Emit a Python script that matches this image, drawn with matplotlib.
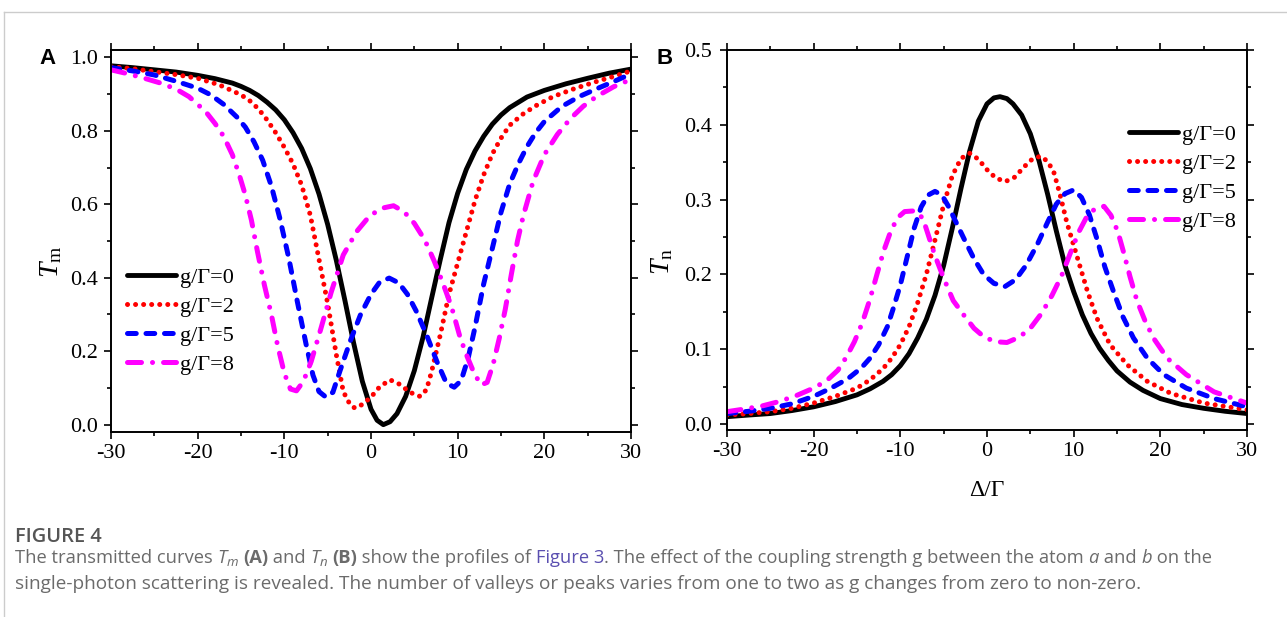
import matplotlib
matplotlib.use('Agg')
import matplotlib.pyplot as plt
from matplotlib.lines import Line2D
from matplotlib.ticker import MultipleLocator, FormatStrFormatter

plt.rcParams['font.family'] = ['Liberation Serif', 'DejaVu Serif']
plt.rcParams['mathtext.fontset'] = 'custom'
plt.rcParams['mathtext.rm'] = 'Liberation Serif'
plt.rcParams['mathtext.it'] = 'Liberation Serif:italic'
plt.rcParams['axes.unicode_minus'] = False

# ---------------- data ----------------
labels = ['g/Γ=0', 'g/Γ=2', 'g/Γ=5', 'g/Γ=8']

# Panel A : T_m
xa_g0 = [-30, -27.5, -25, -22.5, -20, -18, -16, -15, -14, -13, -12, -11, -10, -9, -8, -7, -6, -5, -4, -3, -2, -1,
         0, 0.7, 1.42, 2.2, 3, 4, 5, 6, 7, 8, 9, 10, 11, 12, 13, 14, 15, 16, 18, 20, 22.5, 25, 27.5, 30]
ta_g0 = [0.977, 0.972, 0.966, 0.960, 0.951, 0.942, 0.930, 0.921, 0.910, 0.896, 0.878, 0.857, 0.830, 0.795, 0.752,
         0.697, 0.628, 0.545, 0.447, 0.337, 0.222, 0.118, 0.042, 0.012, 0.0, 0.008, 0.03, 0.077, 0.147, 0.238, 0.345,
         0.45, 0.55, 0.63, 0.695, 0.745, 0.785, 0.818, 0.843, 0.863, 0.892, 0.910, 0.928, 0.943, 0.957, 0.968]

xa_g2 = [-30, -27.5, -25, -22.5, -20, -17.5, -15, -14, -13, -12, -11, -10, -9, -8, -7, -6, -5, -4, -3.2, -2.4, -1.85,
         -1, 0, 1, 2.2, 3.3, 4.5, 5.65, 6.4, 7, 8, 9, 10, 11, 12, 13, 14, 15, 16, 17.5, 19, 21, 23.5, 26, 28, 30]
ta_g2 = [0.975, 0.969, 0.961, 0.953, 0.943, 0.925, 0.898, 0.882, 0.86, 0.83, 0.795, 0.755, 0.71, 0.652, 0.57, 0.45,
         0.33, 0.19, 0.09, 0.054, 0.045, 0.055, 0.075, 0.103, 0.122, 0.11, 0.088, 0.077, 0.095, 0.145, 0.245, 0.355,
         0.44, 0.525, 0.61, 0.68, 0.737, 0.78, 0.815, 0.845, 0.868, 0.893, 0.915, 0.934, 0.948, 0.963]

xa_g5 = [-30, -27.5, -25, -22.5, -20, -18.5, -17, -15.5, -14.5, -13.5, -12.5, -11.5, -10.5, -9.5, -8.5, -7.5, -6.7,
         -6, -5.2, -4.4, -3.6, -2.4, -1.2, 0, 1, 2.1, 3.2, 4.2, 5.2, 6.4, 7.6, 8.7, 9.6, 10.4, 11.2, 12, 13, 14, 15,
         16, 17, 18, 19, 20, 22, 24, 26, 28, 30]
ta_g5 = [0.972, 0.963, 0.952, 0.935, 0.916, 0.898, 0.872, 0.838, 0.81, 0.77, 0.72, 0.65, 0.56, 0.455, 0.335, 0.22,
         0.135, 0.09, 0.075, 0.088, 0.145, 0.227, 0.30, 0.355, 0.388, 0.399, 0.386, 0.355, 0.31, 0.245, 0.172, 0.113,
         0.102, 0.12, 0.18, 0.265, 0.383, 0.48, 0.578, 0.655, 0.71, 0.757, 0.795, 0.825, 0.866, 0.893, 0.914, 0.934,
         0.955]

xa_g8 = [-30, -28, -26, -24, -22.3, -21, -20, -19, -18, -17, -16, -15.2, -14.5, -13.8, -13.1, -12.3, -11.5, -10.8,
         -10, -9.3, -8.6, -7.8, -6.9, -5.8, -4.6, -3.2, -1.65, -0.1, 1.4, 2.6, 3.8, 5, 6.2, 7.3, 8.3, 9.3, 10.3, 11.1,
         11.9, 12.7, 13.4, 14.1, 14.8, 15.5, 16.2, 16.9, 17.6, 18.7, 20, 21.5, 23, 24.5, 26, 28, 30]
ta_g8 = [0.966, 0.955, 0.942, 0.928, 0.911, 0.893, 0.872, 0.85, 0.82, 0.785, 0.735, 0.68, 0.625, 0.557, 0.471,
         0.38, 0.3, 0.218, 0.14, 0.097, 0.092, 0.118, 0.172, 0.26, 0.36, 0.462, 0.526, 0.57, 0.59, 0.596, 0.58, 0.548,
         0.503, 0.445, 0.385, 0.32, 0.236, 0.185, 0.14, 0.108, 0.115, 0.165, 0.235, 0.315, 0.41, 0.5, 0.571, 0.662,
         0.735, 0.79, 0.833, 0.867, 0.893, 0.92, 0.94]

# Panel B : T_n
xb_g0 = [-30, -27.5, -25, -22.5, -20, -17.5, -15, -13.5, -12, -11, -10, -9, -8, -7, -6, -5, -4, -3, -2, -1, 0, 0.8,
         1.5, 2.3, 3, 4, 5, 6, 7, 8, 9, 10, 11, 12, 13, 14, 15, 16.5, 18, 20, 22.5, 25, 27.5, 30]
tb_g0 = [0.0098, 0.012, 0.014, 0.018, 0.023, 0.03, 0.039, 0.047, 0.057, 0.066, 0.078, 0.094, 0.115, 0.14, 0.172,
         0.212, 0.262, 0.315, 0.365, 0.405, 0.428, 0.436, 0.4376, 0.435, 0.428, 0.413, 0.388, 0.352, 0.307, 0.258,
         0.212, 0.177, 0.146, 0.121, 0.101, 0.085, 0.071, 0.056, 0.045, 0.034, 0.026, 0.021, 0.017, 0.014]

xb_g2 = [-30, -27.5, -25, -22.5, -20, -17.5, -15, -13.5, -12, -11, -10, -9, -8, -7, -6, -5, -4, -3, -2, -1, 0, 1,
         2.1, 3.2, 4.3, 5.3, 6.2, 7, 7.7, 8.4, 9.2, 10, 10.8, 11.6, 12.7, 14.2, 16.2, 18.5, 21.2, 25, 30]
tb_g2 = [0.012, 0.014, 0.0165, 0.021, 0.028, 0.037, 0.048, 0.059, 0.074, 0.088, 0.106, 0.13, 0.162, 0.2, 0.246,
         0.293, 0.332, 0.355, 0.362, 0.354, 0.34, 0.329, 0.324, 0.33, 0.344, 0.355, 0.358, 0.351, 0.337, 0.308, 0.27,
         0.239, 0.208, 0.177, 0.141, 0.106, 0.079, 0.057, 0.041, 0.028, 0.019]

xb_g5 = [-30, -27.5, -25, -22.5, -20, -18, -16, -14.5, -13.5, -12.5, -11.5, -10.8, -10, -9.2, -8.4, -7.6, -6.8, -6,
         -5.2, -4.4, -3.5, -2.5, -1.5, -0.4, 0.8, 2.1, 3.3, 4.5, 5.8, 7, 8, 9, 10, 10.9, 11.8, 12.7, 13.6, 14.6, 15.7,
         16.9, 18.5, 20.4, 23, 26.2, 30]
tb_g5 = [0.014, 0.017, 0.021, 0.027, 0.037, 0.048, 0.061, 0.075, 0.088, 0.106, 0.13, 0.155, 0.186, 0.224, 0.262,
         0.29, 0.306, 0.311, 0.306, 0.29, 0.268, 0.244, 0.221, 0.2, 0.188, 0.184, 0.193, 0.212, 0.24, 0.27, 0.294,
         0.308, 0.313, 0.303, 0.28, 0.247, 0.21, 0.177, 0.143, 0.115, 0.088, 0.066, 0.048, 0.034, 0.023]

xb_g8 = [-30, -28, -26, -24, -22, -20, -18.5, -17.2, -16.2, -15.3, -14.4, -13.5, -12.7, -11.9, -11.1, -10.3, -9.5,
         -8.3, -7.4, -6.7, -6, -5, -3.9, -2.7, -1.5, -0.3, 1, 2.3, 3.7, 5, 6.3, 7.5, 8.6, 9.6, 10.6, 11.6, 12.6, 13.5,
         14.3, 15.1, 15.8, 16.5, 17.3, 18.2, 19.2, 20.8, 23, 26.2, 30]
tb_g8 = [0.0165, 0.02, 0.024, 0.03, 0.038, 0.048, 0.058, 0.072, 0.09, 0.11, 0.135, 0.167, 0.2, 0.232, 0.258, 0.276,
         0.284, 0.285, 0.275, 0.25, 0.225, 0.195, 0.165, 0.146, 0.128, 0.116, 0.11, 0.109, 0.116, 0.128, 0.148, 0.172,
         0.198, 0.228, 0.257, 0.279, 0.289, 0.291, 0.279, 0.257, 0.228, 0.197, 0.165, 0.139, 0.115, 0.088, 0.066,
         0.043, 0.028]

xticks = [-30, -20, -10, 0, 10, 20, 30]

# ---------------- layout ----------------
W, H = 1287, 617
fig = plt.figure(figsize=(W / 100, H / 100), dpi=100)


def fx(px):
    return px / W


def fy(py):
    return 1 - py / H


axA = fig.add_axes([fx(111), fy(432), (631 - 111) / W, (432 - 50) / H])
axB = fig.add_axes([fx(727), fy(430), (1247 - 727) / W, (430 - 50) / H])

styles = [
    dict(color='#000000', lw=3.5, ls='-', solid_capstyle='round', solid_joinstyle='round'),
    dict(color='#ff0000', lw=3.6, ls=(0, (0.01, 1.6)), dash_capstyle='round'),
    dict(color='#0000ff', lw=3.6, ls=(0, (1.75, 1.95)), dash_capstyle='round'),
    dict(color='#ff00ff', lw=3.6, ls=(0, (2.8, 2.2, 0.01, 2.2)), dash_capstyle='round'),
]

seriesA = [(xa_g0, ta_g0), (xa_g2, ta_g2), (xa_g5, ta_g5), (xa_g8, ta_g8)]
seriesB = [(xb_g0, tb_g0), (xb_g2, tb_g2), (xb_g5, tb_g5), (xb_g8, tb_g8)]

for ax, series in ((axA, seriesA), (axB, seriesB)):
    for (xs, ys), st, lab in zip(series, styles, labels):
        ax.plot(xs, ys, label=lab, **st)
    ax.set_xlim(-30, 30)
    ax.set_xticks(xticks)
    ax.xaxis.set_minor_locator(MultipleLocator(5))
    ax.yaxis.set_major_formatter(FormatStrFormatter('%.1f'))
    ax.tick_params(which='both', direction='out', top=True, right=True,
                   labeltop=False, labelright=False, width=1.2, labelsize=16)
    ax.tick_params(which='major', length=5)
    ax.tick_params(which='minor', length=3)
    ax.tick_params(axis='x', pad=3.5)
    ax.tick_params(axis='y', pad=4.3)
    for s in ax.spines.values():
        s.set_linewidth(1.4)

axA.set_ylim(-0.02, 1.02)
axA.yaxis.set_major_locator(MultipleLocator(0.2))
axA.yaxis.set_minor_locator(MultipleLocator(0.1))
axB.set_ylim(-0.008, 0.5)
axB.yaxis.set_major_locator(MultipleLocator(0.1))
axB.yaxis.set_minor_locator(MultipleLocator(0.05))
axB.tick_params(axis='y', pad=5.8)

leg_kw = dict(frameon=False, fontsize=16, handlelength=2.2, handletextpad=0.18, labelspacing=0.38,
              borderpad=0, borderaxespad=0, loc='upper left', bbox_transform=fig.transFigure)
axA.legend(bbox_to_anchor=(fx(127), fy(267)), **leg_kw)
axB.legend(bbox_to_anchor=(fx(1129), fy(124)), **leg_kw)

# axis labels
fig.text(fx(51), fy(262), r'$T_{\mathrm{m}}$', rotation=90, ha='center', va='center', fontsize=20)
fig.text(fx(662), fy(262), r'$T_{\mathrm{n}}$', rotation=90, ha='center', va='center', fontsize=20)
fig.text(fx(987), fy(490), 'Δ/Γ', ha='center', va='center', fontsize=17)

# panel letters
fig.text(fx(48), fy(58), 'A', ha='center', va='center', fontsize=16, fontweight='bold',
         family=['Liberation Sans', 'DejaVu Sans'])
fig.text(fx(665), fy(58), 'B', ha='center', va='center', fontsize=16, fontweight='bold',
         family=['Liberation Sans', 'DejaVu Sans'])

# frame lines of the page
fig.add_artist(Line2D([fx(4), 1], [fy(12), fy(12)], color='#cccccc', lw=1, transform=fig.transFigure))
fig.add_artist(Line2D([fx(4), fx(4)], [fy(12), 0], color='#cccccc', lw=1, transform=fig.transFigure))

# ---------------- caption ----------------
renderer = fig.canvas.get_renderer()
cap_family = ['Open Sans', 'DejaVu Sans']
cap_color = '#6b6b6b'
link_color = '#5a4fb0'


def measure(txt, **kw):
    t = fig.text(0, 0, txt + '|', **kw)
    w1 = t.get_window_extent(renderer=renderer).width
    t.remove()
    t = fig.text(0, 0, '|', **kw)
    w2 = t.get_window_extent(renderer=renderer).width
    t.remove()
    return w1 - w2


def runs_width(runs, size):
    tot = 0
    for txt, extra in runs:
        kw = dict(family=cap_family, fontsize=size)
        kw.update(extra)
        if 'fontsize' in extra:
            kw['fontsize'] = size * extra['fontsize']
        kw.pop('dy', None)
        tot += measure(txt, **kw)
    return tot


def draw_runs(x_px, y_px, runs, size):
    x = x_px
    for txt, extra in runs:
        kw = dict(family=cap_family, fontsize=size, color=cap_color)
        kw.update(extra)
        if 'fontsize' in extra:
            kw['fontsize'] = size * extra['fontsize']
        dy = kw.pop('dy', 0)
        fig.text(fx(x), fy(y_px + dy), txt, ha='left', va='baseline', **kw)
        x += measure(txt, **kw)


sub = dict(style='italic', fontsize=0.72, dy=3)
line1 = [
    ('The transmitted curves ', {}), ('T', dict(style='italic')), ('m', sub), (' ', {}),
    ('(A)', dict(fontweight='bold')), (' and ', {}), ('T', dict(style='italic')), ('n', sub), (' ', {}),
    ('(B)', dict(fontweight='bold')), (' show the profiles of ', {}), ('Figure 3', dict(color=link_color)),
    ('. The effect of the coupling strength g between the atom ', {}), ('a', dict(style='italic')),
    (' and ', {}), ('b', dict(style='italic')), (' on the', {}),
]
line2 = [('single-photon scattering is revealed. The number of valleys or peaks varies from one to two as g '
          'changes from zero to non-zero.', {})]

s1 = 10 * (1215 - 15) / runs_width(line1, 10)
s2 = 10 * (1143 - 15) / runs_width(line2, 10)
draw_runs(15, 563, line1, s1)
draw_runs(15, 589, line2, s2)
fig.text(fx(15), fy(542), 'FIGURE 4', ha='left', va='baseline', family=cap_family, fontsize=s2 * 1.05,
         color='#555555', fontweight='semibold')

fig.savefig('out.png', dpi=100)
